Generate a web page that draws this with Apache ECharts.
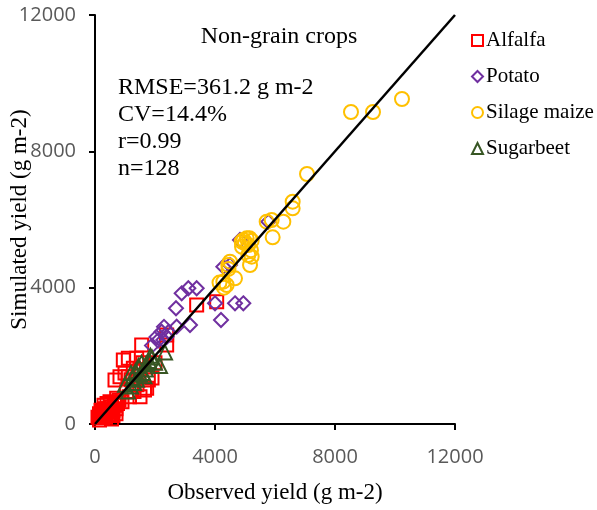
<!DOCTYPE html>
<html>
<head>
<meta charset="utf-8">
<script src="https://cdn.jsdelivr.net/npm/echarts@6/dist/echarts.min.js"></script>
<style>
  html, body { margin: 0; padding: 0; background: #fff; }
  #chart { width: 597px; height: 510px; }
</style>
</head>
<body>
<div id="chart"></div>
<script>
// Observed vs simulated yield (g m-2) for non-grain crops
const axisTicks = [0, 4000, 8000, 12000];

const alfalfa = [
  [150,120],[200,250],[250,180],[300,300],[350,200],[280,400],[400,350],[450,450],
  [500,300],[550,500],[600,400],[650,550],[700,450],[300,550],[200,400],[400,600],
  [500,650],[350,450],[250,350],[150,300],[450,250],[600,250],[750,600],[800,700],
  [100,200],[550,150],[700,300],[900,650],
  [722,753],[833,1388],[944,1878],[1111,1927],[1389,1927],[1111,1388],[1278,1634],
  [667,1291],[1056,948],[1556,2318],[1778,1291],[1722,1047],[1200,1300],[1500,1600],
  [1000,1500],[1300,950],[1600,1800],[1400,1150],[1900,1350],[2389,2611],[2389,2318],
  [3389,3491],[4056,3589],[1650,1000],[2000,1800],[1500,800],[1150,800]
];

const potato = [
  [2222,2708],[2389,2561],[2278,2465],[2100,2450],[2450,2700],[2050,2550],[2700,3395],
  [2889,3835],[3111,3982],[3389,3982],[2722,2855],[3167,2905],[4000,3541],[4200,3051],
  [4667,3541],[4944,3541],[4278,4616],[4500,4665],[4833,5398],[5778,5936],[2300,2850],
  [1900,2300]
];

const silageMaize = [
  [8533,9154],[9267,9154],[10233,9536],[7067,7335],[6589,6524],[6589,6329],[5722,5936],
  [5889,5985],[6278,5936],[5922,5477],[5056,5447],[4889,5349],[5222,5378],[5111,5252],
  [5222,4909],[5111,4958],[5167,4665],[4500,4763],[4444,4665],[4667,4274],[4278,4176],
  [4389,4079],[5000,5300],[5150,5450],[4950,5400],[4300,4000],[4450,4550],[5200,5100],
  [4900,5200],[4150,4150]
];

const sugarbeet = [
  [1100,950],[1200,1100],[1300,1200],[1250,1350],[1400,1300],[1500,1450],[1350,1550],
  [1600,1500],[1450,1700],[1700,1750],[1800,1850],[1550,1800],[1900,1950],[1700,1600],
  [2000,1800],[2167,1700],[1850,2000],[2333,2100],[1650,1400],[1200,1500],[1000,1150]
];

const oneToOne = [[0,0],[12000,12000]];

const statsLines = ['RMSE=361.2 g m-2', 'CV=14.4%', 'r=0.99', 'n=128'];

const serif = '"Liberation Serif", "Times New Roman", serif';
const sans = '"Open Sans", "Liberation Sans", sans-serif';

function scatter(name, data, symbol, color, size) {
  return {
    name: name,
    type: 'scatter',
    data: data,
    symbol: symbol,
    symbolSize: size,
    itemStyle: { color: 'rgba(0,0,0,0)', borderColor: color, borderWidth: 2, opacity: 1 },
    emphasis: { disabled: true },
    z: 3
  };
}

const chart = echarts.init(document.getElementById('chart'), null, { renderer: 'canvas' });

const axisCommon = {
  type: 'value',
  min: 0,
  max: 12000,
  interval: 4000,
  splitLine: { show: false },
  axisLine: { show: true, onZero: false, lineStyle: { color: '#000', width: 2 } },
  axisTick: { show: true, inside: false, length: 6, lineStyle: { color: '#000', width: 2 } },
  axisLabel: {
    color: '#595959', fontFamily: sans, fontSize: 20,
    formatter: v => axisTicks.includes(v) ? String(v) : ''
  },
  nameLocation: 'middle',
  nameMoveOverlap: false,
  nameTextStyle: { color: '#000', fontFamily: serif, fontSize: 23 }
};

chart.setOption({
  animation: false,
  backgroundColor: '#fff',
  grid: { left: 95, right: 142, top: 15, bottom: 86, containLabel: false, outerBoundsMode: 'none' },
  xAxis: Object.assign({}, axisCommon, {
    name: 'Observed yield (g m-2)',
    nameGap: 57,
    axisLabel: Object.assign({}, axisCommon.axisLabel, { margin: 23 })
  }),
  yAxis: Object.assign({}, axisCommon, {
    name: 'Simulated yield (g m-2)',
    nameGap: 64,
    axisLabel: Object.assign({}, axisCommon.axisLabel, { margin: 19 })
  }),
  legend: {
    orient: 'vertical',
    left: 466,
    top: 25,
    itemWidth: 11,
    itemHeight: 11,
    itemGap: 15,
    data: ['Alfalfa', 'Potato', 'Silage maize', 'Sugarbeet'],
    textStyle: { color: '#000', fontFamily: serif, fontSize: 21, padding: [0, 0, 0, -2] },
    itemStyle: { borderWidth: 2 }
  },
  title: [
    {
      text: 'Non-grain crops',
      left: 274, top: 20, textAlign: 'center',
      textStyle: { color: '#000', fontFamily: serif, fontSize: 24, fontWeight: 'normal' }
    },
    {
      text: statsLines.join('\n'),
      left: 113, top: 69,
      textStyle: { color: '#000', fontFamily: serif, fontSize: 24, fontWeight: 'normal', lineHeight: 27 }
    }
  ],
  series: [
    scatter('Alfalfa', alfalfa, 'rect', '#FF0000', 13),
    scatter('Potato', potato, 'diamond', '#7030A0', 14),
    scatter('Silage maize', silageMaize, 'circle', '#FFC000', 14),
    scatter('Sugarbeet', sugarbeet, 'triangle', '#375623', 14),
    {
      name: '1:1',
      type: 'line',
      data: oneToOne,
      symbol: 'none',
      lineStyle: { color: '#000', width: 2.5 },
      silent: true,
      z: 4
    }
  ]
});
</script>
</body>
</html>
